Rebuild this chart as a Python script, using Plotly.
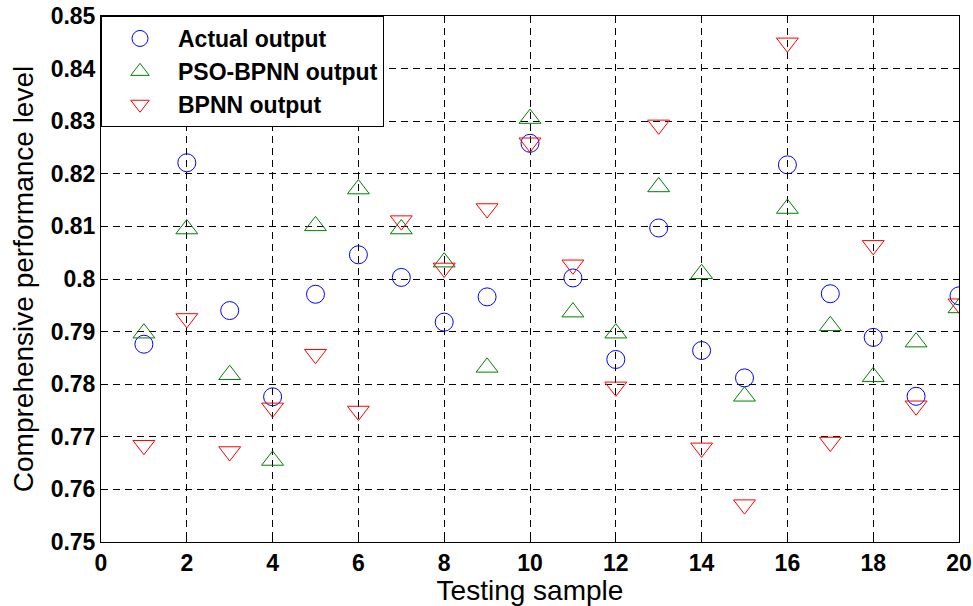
import plotly.graph_objects as go

samples = list(range(1, 21))
actual_output = [0.7876, 0.8221, 0.7940, 0.7776, 0.7971, 0.8046, 0.8003, 0.7918, 0.7966, 0.8258,
                 0.8002, 0.7847, 0.8097, 0.7864, 0.7812, 0.8217, 0.7972, 0.7889, 0.7777, 0.7968]
pso_bpnn_output = [0.7897, 0.8095, 0.7818, 0.7655, 0.8101, 0.8171, 0.8095, 0.8032, 0.7832, 0.8305,
                   0.7937, 0.7897, 0.8175, 0.8010, 0.7777, 0.8134, 0.7911, 0.7814, 0.7880, 0.7945]
bpnn_output = [0.7684, 0.7925, 0.7672, 0.7755, 0.7857, 0.7749, 0.8111, 0.8021, 0.8134, 0.8259,
               0.8027, 0.7795, 0.8293, 0.7679, 0.7571, 0.8449, 0.7690, 0.8064, 0.7759, 0.7953]

x_tick_vals = [0, 2, 4, 6, 8, 10, 12, 14, 16, 18, 20]
x_tick_labels = ["0", "2", "4", "6", "8", "10", "12", "14", "16", "18", "20"]
y_tick_vals = [0.75, 0.76, 0.77, 0.78, 0.79, 0.80, 0.81, 0.82, 0.83, 0.84, 0.85]
y_tick_labels = ["0.75", "0.76", "0.77", "0.78", "0.79", "0.8", "0.81", "0.82", "0.83", "0.84", "0.85"]

FONT = "Liberation Sans, Arial, sans-serif"

fig = go.Figure()
fig.add_trace(go.Scatter(x=samples, y=actual_output, mode="markers", name="Actual output",
                         marker=dict(symbol="circle-open", size=18, color="#0000FF", line=dict(width=1))))
fig.add_trace(go.Scatter(x=samples, y=pso_bpnn_output, mode="markers", name="PSO-BPNN output",
                         marker=dict(symbol="triangle-up-open", size=19, color="#008000", line=dict(width=1))))
fig.add_trace(go.Scatter(x=samples, y=bpnn_output, mode="markers", name="BPNN output",
                         marker=dict(symbol="triangle-down-open", size=19, color="#FF0000", line=dict(width=1))))

axis_common = dict(
    automargin=False,
    showline=True, linecolor="black", linewidth=1, mirror="ticks",
    ticks="inside", ticklen=5, tickcolor="black",
    showgrid=True, gridcolor="black", gridwidth=1, griddash="7px,5px",
    zeroline=False, ticklabeloverflow="allow",
    tickfont=dict(family=FONT, size=23, color="black", weight="bold"),
)

fig.update_layout(
    width=973, height=606,
    paper_bgcolor="white", plot_bgcolor="white",
    margin=dict(l=101, r=14, t=16, b=64),
    showlegend=True,
    legend=dict(x=0, y=1, xanchor="left", yanchor="top", bgcolor="white",
                bordercolor="black", borderwidth=1,
                font=dict(family=FONT, size=23, color="black", weight="bold"),
                itemwidth=66),
    xaxis=dict(range=[0, 20], tickvals=x_tick_vals, ticktext=x_tick_labels,
               title=dict(text="Testing sample", standoff=0,
                          font=dict(family=FONT, size=28, color="black")),
               **axis_common),
    yaxis=dict(range=[0.75, 0.85], tickvals=y_tick_vals, ticktext=y_tick_labels,
               title=dict(text="Comprehensive performance level", standoff=8,
                          font=dict(family=FONT, size=28, color="black")),
               **axis_common),
)

fig.write_html("out.html", config={"displayModeBar": False},
               post_script="document.body.style.margin='0';document.body.style.overflow='hidden';")
